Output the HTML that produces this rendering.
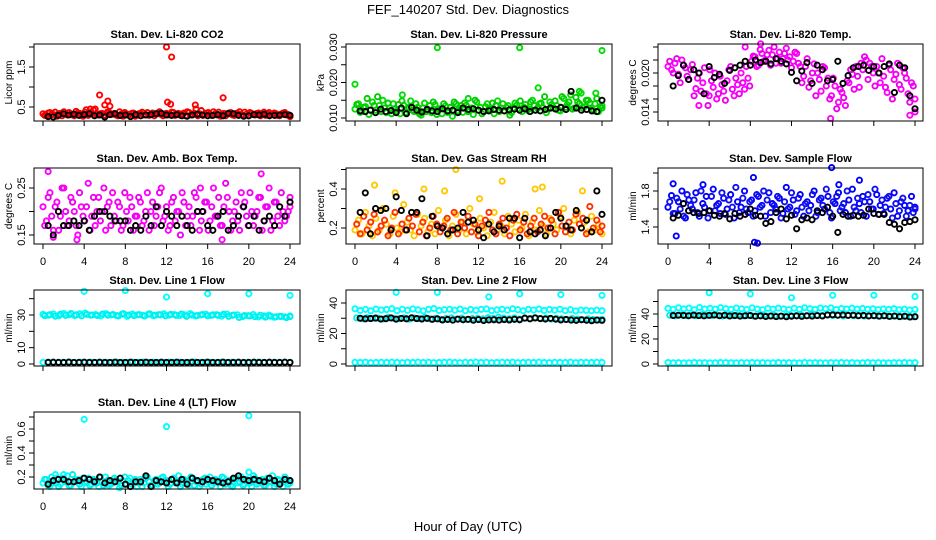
<!DOCTYPE html>
<html><head><meta charset="utf-8">
<style>
html,body{margin:0;padding:0;background:#fff;}
svg{display:block;font-family:"Liberation Sans",sans-serif;}
</style></head>
<body>
<svg id="chart" width="936" height="540" viewBox="0 0 936 540" xmlns="http://www.w3.org/2000/svg">
<rect width="936" height="540" fill="#fff"/>
<text x="468" y="14" font-size="13" text-anchor="middle">FEF_140207  Std. Dev. Diagnostics</text>
<text x="468" y="531" font-size="13" text-anchor="middle">Hour of Day (UTC)</text>
<g id="plots"></g>
</svg>
<script>
// ---- data ----
const xTicks=[0,4,8,12,16,20,24];
const co2A=[0.33,0.29,0.36,0.31,0.27,0.34,0.38,0.30,0.32,0.28,0.35,0.31,0.37,0.29,0.33,0.45,0.30,0.34,0.28,0.36,0.32,0.30,0.38,0.27,0.33,0.31,0.35,0.29,0.34,0.30,0.36,0.32,0.28,0.35,0.31,0.33,0.30,0.37,0.29,0.34,0.32,0.28,0.36,0.31,0.45,0.33,0.29,0.35,0.31,0.38,0.30,0.27,0.34,0.32,0.36,0.29,0.33,0.31,0.37,0.28,0.34,0.30,0.35,0.32,0.29,0.36,0.31,0.33,0.28,0.35,0.30,0.26];
const co2B=[0.29,0.35,0.31,0.37,0.33,0.28,0.32,0.36,0.30,0.39,0.34,0.27,0.31,0.35,0.42,0.30,0.33,0.29,0.37,0.31,0.34,0.28,0.32,0.36,0.30,0.34,0.27,0.33,0.37,0.31,0.29,0.35,0.32,0.38,0.28,0.34,0.31,0.36,0.33,0.29,0.35,0.38,0.30,0.34,0.28,0.41,0.32,0.36,0.29,0.33,0.37,0.31,0.28,0.35,0.30,0.34,0.38,0.29,0.32,0.36,0.31,0.34,0.28,0.37,0.33,0.30,0.35,0.29,0.32,0.36,0.31,0.27];
const co2K=[0.26,0.25,0.29,0.33,0.30,0.32,0.29,0.31,0.33,0.28,0.30,0.25,0.31,0.33,0.29,0.30,0.26,0.31,0.28,0.30,0.31,0.33,0.34,0.30,0.29,0.31,0.28,0.27,0.30,0.32,0.30,0.28,0.29,0.31,0.28,0.34,0.33,0.29,0.27,0.28,0.31,0.30,0.32,0.28,0.29,0.30,0.31,0.29];
const co2OutX=[5.5,6.3,6.0,6.5,12.0,12.5,12.1,12.4,17.5,14.8,4.6,4.2];
const co2OutY=[0.8,0.65,0.55,0.52,2.0,1.75,0.62,0.57,0.73,0.55,0.45,0.43];

const prA=[0.0125,0.0140,0.0118,0.0132,0.0110,0.0145,0.0122,0.0135,0.0150,0.0115,0.0128,0.0140,0.0120,0.0112,0.0136,0.0125,0.0148,0.0118,0.0130,0.0108,0.0142,0.0124,0.0115,0.0138,0.0126,0.0112,0.0134,0.0120,0.0105,0.0140,0.0128,0.0116,0.0136,0.0122,0.0110,0.0145,0.0130,0.0118,0.0140,0.0125,0.0112,0.0148,0.0128,0.0120,0.0135,0.0115,0.0142,0.0126,0.0118,0.0138,0.0125,0.0150,0.0122,0.0140,0.0130,0.0115,0.0145,0.0128,0.0135,0.0120,0.0155,0.0138,0.0165,0.0128,0.0145,0.0170,0.0132,0.0150,0.0125,0.0140,0.0118,0.0135];
const prB=[0.0138,0.0116,0.0130,0.0155,0.0122,0.0135,0.0160,0.0118,0.0128,0.0142,0.0112,0.0125,0.0138,0.0148,0.0116,0.0130,0.0122,0.0140,0.0112,0.0128,0.0118,0.0135,0.0145,0.0110,0.0126,0.0140,0.0116,0.0130,0.0145,0.0120,0.0135,0.0142,0.0118,0.0128,0.0150,0.0122,0.0112,0.0132,0.0125,0.0142,0.0135,0.0118,0.0140,0.0130,0.0108,0.0128,0.0136,0.0148,0.0130,0.0122,0.0145,0.0135,0.0128,0.0142,0.0160,0.0125,0.0138,0.0148,0.0122,0.0160,0.0130,0.0145,0.0125,0.0158,0.0140,0.0128,0.0150,0.0142,0.0120,0.0155,0.0132,0.0128];
const prK=[0.0120,0.0118,0.0122,0.0115,0.0125,0.0118,0.0121,0.0115,0.0128,0.0112,0.0130,0.0122,0.0117,0.0124,0.0120,0.0118,0.0126,0.0120,0.0122,0.0115,0.0128,0.0124,0.0126,0.0122,0.0118,0.0120,0.0124,0.0122,0.0120,0.0123,0.0125,0.0122,0.0126,0.0118,0.0122,0.0120,0.0124,0.0128,0.0125,0.0130,0.0124,0.0175,0.0128,0.0122,0.0124,0.0120,0.0118,0.0150];
const prOutX=[0,8,16,24,17.8,4.6,21.8,23.4,11];
const prOutY=[0.0195,0.0298,0.0298,0.0290,0.0185,0.0165,0.0175,0.0170,0.0155];

const tA=[.0210,.0205,.0215,.0198,.0220,.0208,.0190,.0213,.0176,.0200,.0185,.0168,.0205,.0178,.0160,.0195,.0172,.0188,.0210,.0165,.0182,.0200,.0175,.0192,.0218,.0225,.0212,.0230,.0220,.0235,.0228,.0215,.0232,.0222,.0238,.0225,.0218,.0230,.0210,.0195,.0222,.0188,.0214,.0200,.0172,.0208,.0192,.0165,.0180,.0155,.0170,.0150,.0185,.0198,.0210,.0178,.0205,.0220,.0215,.0200,.0210,.0185,.0195,.0170,.0205,.0190,.0215,.0175,.0200,.0168,.0185,.0160];
const tB=[.0218,.0200,.0222,.0185,.0212,.0195,.0205,.0165,.0192,.0172,.0208,.0150,.0188,.0200,.0168,.0182,.0158,.0205,.0175,.0192,.0168,.0185,.0210,.0180,.0226,.0210,.0236,.0218,.0228,.0212,.0240,.0222,.0215,.0230,.0220,.0208,.0232,.0215,.0185,.0210,.0178,.0200,.0165,.0190,.0210,.0180,.0160,.0192,.0145,.0175,.0162,.0188,.0205,.0175,.0195,.0215,.0225,.0190,.0210,.0180,.0200,.0222,.0178,.0212,.0160,.0198,.0182,.0208,.0192,.0155,.0180,.0140];
const tK=[.0180,.0196,.0212,.0190,.0205,.0200,.0168,.0210,.0193,.0198,.0184,.0204,.0208,.0212,.0218,.0212,.0220,.0216,.0218,.0214,.0222,.0218,.0214,.0201,.0188,.0203,.0216,.0184,.0212,.0205,.0188,.0190,.0218,.0184,.0196,.0208,.0210,.0212,.0204,.0210,.0200,.0210,.0214,.0170,.0212,.0208,.0165,.0145];
const tOutX=[15.8,4,7.5,9,23.5,3];
const tOutY=[.0130,.0165,.0240,.0245,.0135,.0150];

const aA=[.21,.18,.24,.16,.22,.19,.25,.17,.23,.20,.15,.21,.18,.26,.19,.17,.23,.20,.16,.22,.24,.18,.21,.17,.20,.23,.16,.19,.22,.18,.24,.20,.17,.21,.25,.19,.16,.22,.18,.20,.24,.17,.21,.19,.23,.16,.20,.22,.18,.25,.19,.17,.21,.23,.16,.20,.18,.24,.22,.17,.20,.19,.23,.16,.21,.25,.18,.22,.17,.20,.19,.21];
const aB=[.17,.23,.19,.21,.16,.25,.20,.18,.22,.17,.24,.19,.21,.16,.23,.20,.18,.25,.21,.17,.19,.22,.16,.24,.18,.21,.19,.23,.17,.20,.16,.22,.19,.24,.18,.21,.17,.23,.20,.15,.22,.19,.17,.24,.20,.18,.22,.16,.21,.19,.23,.17,.26,.20,.18,.22,.16,.21,.19,.24,.17,.20,.23,.18,.21,.16,.22,.19,.24,.18,.20,.23];
const aK=[.17,.15,.20,.17,.17,.18,.17,.18,.16,.19,.20,.20,.19,.18,.18,.18,.16,.17,.16,.19,.17,.21,.17,.20,.19,.17,.19,.17,.16,.20,.20,.17,.16,.19,.20,.16,.17,.19,.21,.17,.19,.16,.18,.19,.17,.21,.19,.22];
const aOutX=[0.5,21.2,1,17.4,15.3,3.3];
const aOutY=[.285,.28,.145,.14,.25,.14];

const rA=[.19,.24,.17,.28,.21,.16,.25,.19,.30,.22,.17,.26,.20,.18,.32,.23,.19,.16,.27,.21,.25,.18,.22,.17,.29,.20,.24,.16,.21,.27,.19,.23,.17,.30,.22,.18,.25,.20,.16,.23,.28,.19,.21,.17,.26,.22,.18,.24,.20,.27,.16,.23,.19,.29,.21,.17,.25,.22,.19,.26,.30,.21,.17,.24,.28,.20,.23,.18,.26,.19,.22,.17];
const rB=[.22,.17,.26,.19,.23,.27,.18,.21,.24,.16,.20,.28,.17,.22,.19,.25,.21,.27,.18,.23,.16,.20,.26,.22,.18,.21,.25,.19,.28,.17,.23,.20,.26,.18,.22,.16,.21,.24,.28,.19,.17,.22,.25,.20,.16,.24,.27,.19,.23,.17,.21,.25,.18,.22,.26,.20,.24,.17,.28,.21,.18,.23,.19,.27,.22,.25,.17,.31,.20,.24,.18,.21];
const rK=[.28,.38,.17,.30,.29,.30,.19,.36,.29,.19,.28,.28,.35,.16,.26,.21,.20,.17,.19,.20,.28,.23,.24,.19,.15,.22,.18,.21,.19,.25,.25,.15,.25,.18,.17,.19,.16,.20,.28,.25,.21,.19,.29,.20,.24,.18,.39,.27];
const rOutX=[9.8,14.3,1.9,8.7,6.7,3.9,18.2,17.5,22.1,12.1];
const rOutY=[.50,.44,.42,.39,.40,.38,.41,.40,.39,.35];

const fA=[1.62,1.75,1.55,1.68,1.80,1.50,1.70,1.60,1.78,1.52,1.66,1.74,1.58,1.82,1.64,1.55,1.72,1.60,1.76,1.50,1.68,1.62,1.80,1.56,1.70,1.58,1.74,1.64,1.52,1.78,1.66,1.60,1.72,1.55,1.84,1.62,1.70,1.58,1.76,1.52,1.68,1.64,1.80,1.56,1.72,1.60,1.74,1.50,1.66,1.78,1.62,1.56,1.70,1.82,1.58,1.66,1.74,1.52,1.68,1.60,1.76,1.64,1.55,1.72,1.60,1.78,1.52,1.68,1.64,1.58,1.74,1.62];
const fB=[1.68,1.55,1.72,1.60,1.52,1.76,1.64,1.70,1.56,1.80,1.62,1.50,1.74,1.58,1.66,1.78,1.54,1.70,1.62,1.84,1.56,1.72,1.60,1.68,1.52,1.76,1.62,1.80,1.70,1.56,1.64,1.74,1.50,1.68,1.60,1.78,1.54,1.72,1.62,1.66,1.58,1.76,1.52,1.70,1.64,1.82,1.56,1.68,1.74,1.58,1.66,1.80,1.52,1.62,1.72,1.56,1.68,1.76,1.60,1.82,1.54,1.70,1.62,1.74,1.50,1.66,1.58,1.72,1.52,1.64,1.56,1.60];
const fK=[1.50,1.53,1.66,1.58,1.56,1.55,1.56,1.58,1.53,1.52,1.55,1.49,1.55,1.52,1.54,1.60,1.53,1.52,1.44,1.46,1.56,1.60,1.49,1.53,1.38,1.48,1.50,1.48,1.58,1.56,1.62,1.52,1.34,1.54,1.52,1.53,1.52,1.53,1.60,1.55,1.54,1.54,1.45,1.43,1.38,1.45,1.46,1.48];
const fOutX=[0.8,8.4,8.7,15.9,8.3,18.6,0.5,3.4,16.6];
const fOutY=[1.30,1.23,1.22,2.06,1.95,1.92,1.88,1.87,1.87];

const l1A=[30.4,29.8,30.6,29.5,30.9,30.1,29.6,30.7,31.2,29.9,30.3,29.4,30.8,30.0,29.7,30.5,29.2,30.6,30.1,29.8,30.4,29.5,30.2,30.7,29.9,30.3,29.6,30.1,30.8,29.4,30.0,30.5,29.7,30.2,29.3,30.6,29.8,30.1,29.0,29.6,30.3,28.8,29.5,29.9,28.6,29.2,28.9,29.4];
const l1B=[29.6,30.2,29.3,30.5,29.8,30.9,30.1,29.5,30.4,30.0,29.7,30.6,29.9,30.3,29.4,30.8,30.0,29.6,30.2,29.4,30.7,29.9,30.1,29.5,30.4,29.8,30.6,29.2,30.0,29.7,30.3,29.5,30.1,29.8,30.4,29.2,30.0,28.5,29.7,29.4,29.0,29.8,28.7,29.3,28.9,29.1,28.4,29.0];
const l1Z=[1.0,1.2,0.9,1.1,1.0,1.3,0.9,1.1,1.0,1.2,1.0,0.9,1.1,1.0,1.2,1.0,0.9,1.1,1.0,1.2,1.0,1.1,0.9,1.0,1.2,1.0,1.1,0.9,1.0,1.2,1.0,1.1,1.0,0.9,1.2,1.0,1.1,1.0,0.9,1.1,1.0,1.2,1.0,0.9,1.1,1.0,1.1,1.0];
const l1K=[1.0,1.1,1.0,1.0,1.1,1.0,1.0,1.1,1.0,1.0,1.1,1.0,1.0,1.1,1.0,1.0,1.1,1.0,1.0,1.1,1.0,1.0,1.1,1.0,1.0,1.1,1.0,1.0,1.1,1.0,1.0,1.1,1.0,1.0,1.1,1.0,1.0,1.1,1.0,1.0,1.1,1.0,1.0,1.1,1.0,1.0,1.1,1.0];
const l1OutX=[4,8,12,16,20,24];
const l1OutY=[44.5,45,41,43,43,42];

const l2A=[36.2,35.1,35.8,34.9,36.0,35.4,35.7,36.3,35.0,35.9,35.2,36.1,35.5,34.8,35.8,36.4,35.1,35.6,35.9,35.3,36.0,34.9,35.7,35.2,35.8,36.1,35.0,35.5,35.9,35.3,36.2,35.6,34.9,35.8,35.4,36.0,35.1,35.7,35.3,35.9,35.0,35.6,34.8,35.4,35.2,34.9,35.3,35.0];
const l2B=[30.2,29.6,30.4,29.9,30.1,29.5,30.6,30.0,29.7,30.3,29.4,30.1,29.8,30.5,29.6,30.0,29.3,29.9,30.2,29.5,30.1,29.2,29.8,30.0,29.6,30.4,29.9,30.7,30.1,29.7,30.3,29.5,30.0,29.8,30.4,29.6,30.2,29.4,30.0,29.7,29.3,29.9,29.5,29.1,29.6,29.2,28.9,29.3];
const l2Z=[1.1,1.0,1.2,0.9,1.0,1.1,1.0,1.2,1.0,0.9,1.1,1.0,1.2,1.0,1.1,0.9,1.0,1.1,1.2,1.0,0.9,1.1,1.0,1.2,1.0,1.1,0.9,1.0,1.1,1.0,1.2,0.9,1.0,1.1,1.0,1.2,1.0,0.9,1.1,1.0,1.0,1.2,0.9,1.1,1.0,1.0,1.1,1.0];
const l2K=[30.0,29.6,29.8,30.1,29.5,29.7,30.2,29.4,29.9,29.6,30.3,29.8,29.5,29.9,29.3,29.6,28.9,29.2,28.8,29.4,29.0,29.3,28.7,29.1,28.5,28.9,29.0,28.8,29.1,28.9,29.3,29.0,30.1,29.6,30.2,29.8,29.5,29.9,29.4,28.9,29.2,28.8,28.6,29.0,28.7,28.4,28.8,28.6];
const l2OutX=[4,8,13,16,20,24];
const l2OutY=[47,47,44,46,45.5,45];

const l3A=[44.5,43.8,45.0,44.1,44.7,43.5,45.2,44.0,44.6,43.9,45.1,44.3,43.7,44.8,44.2,43.6,44.9,44.0,43.4,44.5,43.9,44.7,44.1,43.5,44.6,43.8,45.0,44.3,43.7,44.8,44.2,44.9,43.6,44.4,44.0,44.7,43.9,44.5,43.8,44.2,43.5,44.1,43.7,44.3,43.4,43.9,43.2,43.6];
const l3B=[39.0,38.5,39.3,38.8,39.1,38.6,39.4,38.9,38.7,39.2,38.4,39.0,38.8,39.3,38.5,38.9,38.3,38.7,39.1,38.4,38.9,38.2,38.6,39.0,38.8,39.4,38.6,39.7,39.2,38.9,39.5,38.7,39.1,38.4,38.9,38.6,39.0,38.3,38.7,38.5,38.2,38.6,38.0,38.4,37.8,38.2,37.6,38.0];
const l3Z=[1.2,1.0,1.1,0.9,1.0,1.2,1.0,1.1,0.9,1.0,1.2,1.1,1.0,0.9,1.1,1.0,1.2,1.0,1.1,0.9,1.0,1.2,1.0,1.1,1.0,0.9,1.2,1.0,1.1,1.0,0.9,1.1,1.0,1.2,1.0,1.1,0.9,1.0,1.2,1.0,1.1,1.0,0.9,1.1,1.0,1.2,1.0,1.1];
const l3K=[38.8,39.0,38.9,38.6,39.1,38.7,38.5,38.9,39.2,38.6,39.0,38.4,38.7,38.3,38.6,38.8,38.2,38.5,38.0,38.4,37.9,38.3,37.8,38.2,38.5,38.1,38.6,38.3,38.7,38.4,39.2,39.4,39.0,39.3,38.9,39.1,38.6,38.9,38.4,38.7,38.3,38.6,38.1,38.4,37.9,38.2,37.6,37.8];
const l3OutX=[4,8,12,16,20,24];
const l3OutY=[57,56,53,55,55,54];

const l4A=[.15,.18,.12,.16,.19,.14,.17,.21,.13,.16,.18,.12,.15,.19,.14,.17,.12,.16,.20,.13,.15,.18,.11,.17,.14,.19,.16,.12,.18,.15,.20,.13,.17,.14,.19,.16,.12,.18,.15,.21,.14,.17,.13,.19,.16,.12,.18,.14,.20,.15,.17,.12,.19,.16,.13,.18,.15,.20,.14,.17,.12,.19,.15,.18,.13,.16,.21,.14,.17,.12,.18,.15];
const l4B=[.18,.13,.20,.15,.12,.19,.16,.13,.22,.17,.14,.19,.16,.13,.18,.15,.20,.13,.17,.14,.19,.16,.13,.20,.17,.14,.18,.15,.12,.19,.16,.13,.18,.15,.20,.17,.14,.19,.16,.12,.18,.15,.20,.13,.17,.14,.19,.16,.13,.18,.15,.20,.14,.17,.12,.19,.16,.13,.18,.15,.21,.14,.17,.13,.19,.16,.12,.18,.15,.20,.14,.17];
const l4K=[.14,.17,.18,.18,.16,.16,.17,.19,.18,.16,.20,.15,.17,.16,.19,.14,.12,.16,.16,.21,.12,.17,.16,.15,.18,.15,.18,.14,.19,.17,.16,.18,.17,.16,.15,.16,.19,.21,.18,.17,.18,.17,.16,.19,.17,.14,.18,.17];
const l4OutX=[4,12,20,20,1.2,2];
const l4OutY=[.68,.62,.71,.24,.22,.22];

// ---- layout (not data) ----
const NS='http://www.w3.org/2000/svg';
const COLX=[43,355,668], BOXL=[34,346,658], BOXR=[300,612,923];
const ROWS=[[44,121],[168,244],[290,366],[412,489]];
function mk(tag,attrs,parent){const e=document.createElementNS(NS,tag);for(const k in attrs)e.setAttribute(k,attrs[k]);parent.appendChild(e);return e;}

const panels=[
 {key:'co2',title:'Stan. Dev. Li-820 CO2',yl:'Licor ppm',c:0,r:0,v1:0.5,p1:107,v2:1.5,p2:67,ticks:[0.5,1,1.5,2],labels:['0.5','1.5'],lv:[0.5,1.5],col:['#ff0000','#ee0000'],A:co2A,B:co2B,K:co2K,OX:co2OutX,OY:co2OutY,xl:false},
 {key:'pressure',title:'Stan. Dev. Li-820 Pressure',yl:'kPa',c:1,r:0,v1:0.010,p1:118,v2:0.030,p2:47,ticks:[0.010,0.015,0.020,0.025,0.030],labels:['0.010','0.020','0.030'],lv:[0.010,0.020,0.030],col:['#00dd00','#00cc00'],A:prA,B:prB,K:prK,OX:prOutX,OY:prOutY,xl:false},
 {key:'li-temp',title:'Stan. Dev. Li-820 Temp.',yl:'degrees C',c:2,r:0,v1:0.014,p1:112,v2:0.020,p2:73,ticks:[0.014,0.016,0.018,0.020,0.022,0.024],labels:['0.014','0.020'],lv:[0.014,0.020],col:['#ff00ff','#ee00ee'],A:tA,B:tB,K:tK,OX:tOutX,OY:tOutY,xl:false},
 {key:'amb-temp',title:'Stan. Dev. Amb. Box Temp.',yl:'degrees C',c:0,r:1,v1:0.15,p1:235,v2:0.25,p2:188,ticks:[0.15,0.20,0.25],labels:['0.15','0.25'],lv:[0.15,0.25],col:['#ff00ff','#ee00ee'],A:aA,B:aB,K:aK,OX:aOutX,OY:aOutY,xl:true},
 {key:'rh',title:'Stan. Dev. Gas Stream RH',yl:'percent',c:1,r:1,v1:0.2,p1:228,v2:0.4,p2:189,ticks:[0.2,0.3,0.4,0.5],labels:['0.2','0.4'],lv:[0.2,0.4],col:['#ffc800','#ff3000'],A:rA,B:rB,K:rK,OX:rOutX,OY:rOutY,xl:true},
 {key:'sample-flow',title:'Stan. Dev. Sample Flow',yl:'ml/min',c:2,r:1,v1:1.4,p1:227,v2:1.8,p2:191,ticks:[1.4,1.6,1.8,2.0],labels:['1.4','1.8'],lv:[1.4,1.8],col:['#0000ff','#1010ee'],A:fA,B:fB,K:fK,OX:fOutX,OY:fOutY,xl:true},
 {key:'line1',title:'Stan. Dev. Line 1 Flow',yl:'ml/min',c:0,r:2,v1:0,p1:364,v2:30,p2:315,ticks:[0,10,20,30,40],labels:['0','10','30'],lv:[0,10,30],col:['#00ffff','#00eeee'],A:l1A,B:l1B,Z:l1Z,K:l1K,OX:l1OutX,OY:l1OutY,xl:false},
 {key:'line2',title:'Stan. Dev. Line 2 Flow',yl:'ml/min',c:1,r:2,v1:0,p1:364,v2:40,p2:303,ticks:[0,10,20,30,40],labels:['0','20','40'],lv:[0,20,40],col:['#00ffff','#00eeee'],A:l2A,B:l2B,Z:l2Z,K:l2K,OX:l2OutX,OY:l2OutY,xl:false},
 {key:'line3',title:'Stan. Dev. Line 3 Flow',yl:'ml/min',c:2,r:2,v1:0,p1:364,v2:40,p2:314,ticks:[0,10,20,30,40,50],labels:['0','20','40'],lv:[0,20,40],col:['#00ffff','#00eeee'],A:l3A,B:l3B,Z:l3Z,K:l3K,OX:l3OutX,OY:l3OutY,xl:false},
 {key:'line4',title:'Stan. Dev. Line 4 (LT) Flow',yl:'ml/min',c:0,r:3,v1:0.2,p1:477,v2:0.6,p2:429,ticks:[0.2,0.3,0.4,0.5,0.6,0.7],labels:['0.2','0.4','0.6'],lv:[0.2,0.4,0.6],col:['#00ffff','#00eeee'],A:l4A,B:l4B,K:l4K,OX:l4OutX,OY:l4OutY,xl:true}
];

const root=document.getElementById('plots');
panels.forEach(p=>{
  const g=mk('g',{},root);
  
  
  const [top,bot]=ROWS[p.r];
  const L=BOXL[p.c], R=BOXR[p.c];
  const xs=h=>COLX[p.c]+h*247/24;
  const ys=v=>p.p1+(v-p.v1)*(p.p2-p.p1)/(p.v2-p.v1);
  const t=mk('text',{x:(L+R)/2,y:top-6,'font-size':11,'font-weight':'bold','text-anchor':'middle'},g);
  t.textContent=p.title;
  
  
  const yl=mk('text',{x:0,y:0,'font-size':10,'text-anchor':'middle',transform:`translate(${L-22},${(top+bot)/2}) rotate(-90)`},g);
  yl.textContent=p.yl;
  
  
  const pts=mk('g',{fill:'none','stroke-width':1.9},g);
  
  
  const series=[[p.A,p.col[0],0],[p.B,p.col[1],0.17]];
  if(p.Z) series.push([p.Z,p.col[0],0]);
  series.forEach(([arr,color,off])=>{
    arr.forEach((v,i)=>{
      const h=Math.min(24,off+i*24/(arr.length-1));
      const y=ys(v); if(y<top-3||y>bot+3) return;
      const c=mk('circle',{cx:xs(h),cy:y,r:2.6,stroke:color},pts);
      
      
    });
  });
  p.OX.forEach((h,i)=>{
    const c=mk('circle',{cx:xs(h),cy:ys(p.OY[i]),r:2.6,stroke:p.col[0]},pts);
    
    
  });
  p.K.forEach((v,i)=>{
    const h=0.5+i*23.5/(p.K.length-1);
    const c=mk('circle',{cx:xs(h),cy:ys(v),r:2.6,stroke:'#000'},pts);
    
    
  });
  const b=mk('rect',{x:L,y:top,width:R-L,height:bot-top,fill:'none',stroke:'#000','stroke-width':1},g);
  
  
  const ya=mk('g',{stroke:'#000','stroke-width':1},g);
  
  
  p.ticks.forEach(v=>{const y=ys(v); if(y<top-1||y>bot+1) return; mk('line',{x1:L-5,x2:L,y1:y,y2:y},ya);});
  p.lv.forEach((v,i)=>{
    const tl=mk('text',{x:0,y:0,'font-size':11,'text-anchor':'middle',stroke:'none',transform:`translate(${L-9},${ys(v)}) rotate(-90)`},g);
    tl.textContent=p.labels[i];
    
    
  });
  const xa=mk('g',{stroke:'#000','stroke-width':1},g);
  
  
  xTicks.forEach(h=>{
    mk('line',{x1:xs(h),x2:xs(h),y1:bot,y2:bot+5},xa);
    if(p.xl){
      const tl=mk('text',{x:xs(h),y:bot+21,'font-size':11,'text-anchor':'middle',stroke:'none'},g);
      tl.textContent=String(h);
      
      
    }
  });
});
</script>
</body></html>
